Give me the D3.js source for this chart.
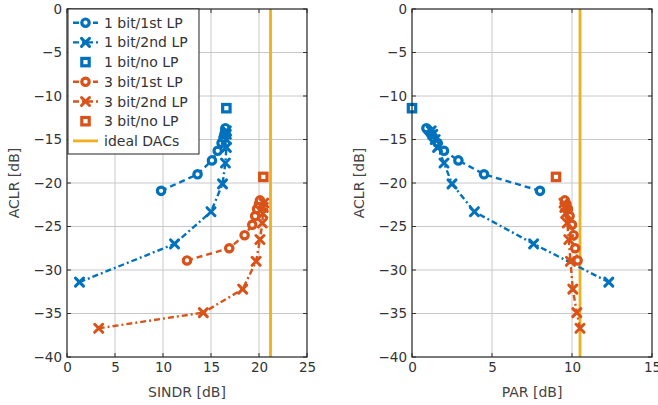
<!DOCTYPE html>
<html>
<head>
<meta charset="utf-8">
<script src="https://cdn.jsdelivr.net/npm/d3@7"></script>
<style>
  body { margin: 0; background: #fff; }
  svg { font-family: "DejaVu Sans", sans-serif; }
  .tick text { fill: #333; font-size: 13.5px; }
  .lab { fill: #444; font-size: 14px; }
</style>
</head>
<body>
<svg id="chart" width="658" height="405"></svg>
<script>
// series values
const sindr_1b_1st = [9.8, 13.6, 15.1, 15.7, 16.1, 16.3, 16.4, 16.5, 16.5, 16.5];
const aclr_1b_1st  = [-20.9, -19.0, -17.4, -16.3, -15.4, -14.8, -14.4, -14.1, -13.9, -13.7];
const par_1b_1st   = [8.0, 4.5, 2.9, 2.0, 1.6, 1.35, 1.2, 1.1, 1.0, 0.9];

const sindr_1b_2nd = [1.3, 11.2, 15.0, 16.2, 16.5, 16.6, 16.6, 16.6, 16.6];
const aclr_1b_2nd  = [-31.4, -27.0, -23.3, -20.1, -17.7, -15.9, -15.0, -14.4, -14.0];
const par_1b_2nd   = [12.3, 7.6, 3.9, 2.5, 2.0, 1.6, 1.45, 1.3, 1.2];

const sindr_1b_no = [16.6];
const aclr_1b_no  = [-11.4];
const par_1b_no   = [0.0];

const sindr_3b_1st = [12.5, 16.9, 18.5, 19.3, 19.6, 19.8, 20.0, 20.1];
const aclr_3b_1st  = [-28.9, -27.5, -26.0, -24.8, -23.8, -23.0, -22.4, -22.0];
const par_3b_1st   = [10.35, 10.2, 10.1, 10.0, 9.85, 9.75, 9.65, 9.55];

const sindr_3b_2nd = [3.3, 14.2, 18.3, 19.7, 20.1, 20.35, 20.4, 20.45, 20.5];
const aclr_3b_2nd  = [-36.7, -34.9, -32.2, -29.0, -26.5, -24.6, -23.5, -22.8, -22.3];
const par_3b_2nd   = [10.5, 10.3, 10.05, 9.9, 9.8, 9.7, 9.6, 9.55, 9.5];

const sindr_3b_no = [20.45];
const aclr_3b_no  = [-19.3];
const par_3b_no   = [9.0];

const ideal_sindr = 21.2;
const ideal_par = 10.5;

const legendLabels = ["1 bit/1st LP", "1 bit/2nd LP", "1 bit/no LP",
                      "3 bit/1st LP", "3 bit/2nd LP", "3 bit/no LP", "ideal DACs"];
const yTicks = [0, -5, -10, -15, -20, -25, -30, -35, -40];
const xTicksLeft = [0, 5, 10, 15, 20, 25];
const xTicksRight = [0, 5, 10, 15];

const BLUE = "#0072BD", ORANGE = "#D95319", YELLOW = "#EDB120";
const DASH = "6,4", DASHDOT = "6,3,2,3";

const series = [
  {name: legendLabels[0], color: BLUE, marker: "o", dash: DASH, a: sindr_1b_1st, p: par_1b_1st, y: aclr_1b_1st},
  {name: legendLabels[1], color: BLUE, marker: "x", dash: DASHDOT, a: sindr_1b_2nd, p: par_1b_2nd, y: aclr_1b_2nd},
  {name: legendLabels[2], color: BLUE, marker: "s", dash: null, a: sindr_1b_no, p: par_1b_no, y: aclr_1b_no},
  {name: legendLabels[3], color: ORANGE, marker: "o", dash: DASH, a: sindr_3b_1st, p: par_3b_1st, y: aclr_3b_1st},
  {name: legendLabels[4], color: ORANGE, marker: "x", dash: DASHDOT, a: sindr_3b_2nd, p: par_3b_2nd, y: aclr_3b_2nd},
  {name: legendLabels[5], color: ORANGE, marker: "s", dash: null, a: sindr_3b_no, p: par_3b_no, y: aclr_3b_no}
];

const svg = d3.select("#chart");
const TOP = 9, BOTTOM = 357;

function drawMarker(g, type, x, y, color) {
  if (type === "o") {
    g.append("circle").attr("cx", x).attr("cy", y).attr("r", 3.7)
      .attr("fill", "#fff").attr("stroke", color).attr("stroke-width", 3.2);
  } else if (type === "s") {
    g.append("rect").attr("x", x - 3.7).attr("y", y - 3.7).attr("width", 7.4).attr("height", 7.4)
      .attr("fill", "#fff").attr("stroke", color).attr("stroke-width", 3.2);
  } else {
    const s = 4;
    g.append("path").attr("d", `M${x - s},${y - s}L${x + s},${y + s}M${x - s},${y + s}L${x + s},${y - s}`)
      .attr("stroke", color).attr("stroke-width", 3).attr("stroke-linecap", "round");
  }
}

function panel(left, right, xmax, xTicks, key, idealX, xlabel, ylabelX, withLegend) {
  const x = d3.scaleLinear().domain([0, xmax]).range([left, right]);
  const y = d3.scaleLinear().domain([-40, 0]).range([BOTTOM, TOP]);
  const g = svg.append("g");

  // grid
  g.append("g").selectAll("line").data(xTicks.slice(1, -1)).enter().append("line")
    .attr("x1", d => x(d)).attr("x2", d => x(d)).attr("y1", TOP).attr("y2", BOTTOM)
    .attr("stroke", "#c8c8c8").attr("stroke-width", 1);
  g.append("g").selectAll("line").data(yTicks.slice(1, -1)).enter().append("line")
    .attr("y1", d => y(d)).attr("y2", d => y(d)).attr("x1", left).attr("x2", right)
    .attr("stroke", "#c8c8c8").attr("stroke-width", 1);

  // inner ticks on all sides
  const tl = 4;
  const tg = g.append("g").attr("stroke", "#333").attr("stroke-width", 1);
  xTicks.forEach(t => {
    tg.append("line").attr("x1", x(t)).attr("x2", x(t)).attr("y1", BOTTOM).attr("y2", BOTTOM - tl);
    tg.append("line").attr("x1", x(t)).attr("x2", x(t)).attr("y1", TOP).attr("y2", TOP + tl);
  });
  yTicks.forEach(t => {
    tg.append("line").attr("y1", y(t)).attr("y2", y(t)).attr("x1", left).attr("x2", left + tl);
    tg.append("line").attr("y1", y(t)).attr("y2", y(t)).attr("x1", right).attr("x2", right - tl);
  });

  // axes with labels only
  const ax = g.append("g").attr("transform", `translate(0,${BOTTOM})`)
    .call(d3.axisBottom(x).tickValues(xTicks).tickSize(0).tickPadding(5).tickFormat(d3.format("d")));
  ax.select(".domain").remove();
  const ay = g.append("g").attr("transform", `translate(${left},0)`)
    .call(d3.axisLeft(y).tickValues(yTicks).tickSize(0).tickPadding(5)
      .tickFormat(d => d < 0 ? "\u2212" + Math.abs(d) : d));
  ay.select(".domain").remove();
  g.selectAll(".tick text").attr("font-family", "DejaVu Sans, sans-serif");

  // ideal line
  g.append("line").attr("x1", x(idealX)).attr("x2", x(idealX)).attr("y1", TOP).attr("y2", BOTTOM)
    .attr("stroke", YELLOW).attr("stroke-width", 2.8);

  // series
  series.forEach(s => {
    const pts = s.y.map((v, i) => [x(s[key][i]), y(v)]);
    if (s.dash) {
      g.append("path").attr("d", d3.line()(pts)).attr("fill", "none")
        .attr("stroke", s.color).attr("stroke-width", 2.4).attr("stroke-dasharray", s.dash);
    }
    const mg = g.append("g");
    pts.forEach(p => drawMarker(mg, s.marker, p[0], p[1], s.color));
  });

  // box
  g.append("rect").attr("x", left).attr("y", TOP).attr("width", right - left).attr("height", BOTTOM - TOP)
    .attr("fill", "none").attr("stroke", "#222").attr("stroke-width", 1.2);

  // axis labels
  g.append("text").attr("class", "lab").attr("x", (left + right) / 2).attr("y", 397)
    .attr("text-anchor", "middle").text(xlabel);
  g.append("text").attr("class", "lab")
    .attr("transform", `translate(${ylabelX},${(TOP + BOTTOM) / 2}) rotate(-90)`)
    .attr("text-anchor", "middle").text("ACLR [dB]");

  if (withLegend) {
    const lx = left + 1, ly = TOP, lw = 131, lh = 145, step = 19.7;
    const lg = g.append("g");
    lg.append("rect").attr("x", lx).attr("y", ly).attr("width", lw).attr("height", lh)
      .attr("fill", "#fff").attr("stroke", "#222").attr("stroke-width", 1);
    const items = series.map(s => ({name: s.name, color: s.color, marker: s.marker, dash: s.dash}));
    items.push({name: legendLabels[6], color: YELLOW, marker: null, dash: "solid"});
    items.forEach((it, i) => {
      const cy = ly + 13.7 + i * step;
      if (it.dash === "solid") {
        lg.append("line").attr("x1", lx + 5).attr("x2", lx + 30).attr("y1", cy).attr("y2", cy)
          .attr("stroke", it.color).attr("stroke-width", 2.8);
      } else if (it.dash) {
        lg.append("line").attr("x1", lx + 5).attr("x2", lx + 30).attr("y1", cy).attr("y2", cy)
          .attr("stroke", it.color).attr("stroke-width", 2.4).attr("stroke-dasharray", it.dash);
      }
      if (it.marker) drawMarker(lg, it.marker, lx + 17.5, cy, it.color);
      lg.append("text").attr("class", "lab").attr("x", lx + 36).attr("y", cy + 5)
        .style("fill", "#333").text(it.name);
    });
  }
}

panel(67, 307, 25, xTicksLeft, "a", ideal_sindr, "SINDR [dB]", 19, true);
panel(412, 652, 15, xTicksRight, "p", ideal_par, "PAR [dB]", 364, false);
</script>
</body>
</html>
